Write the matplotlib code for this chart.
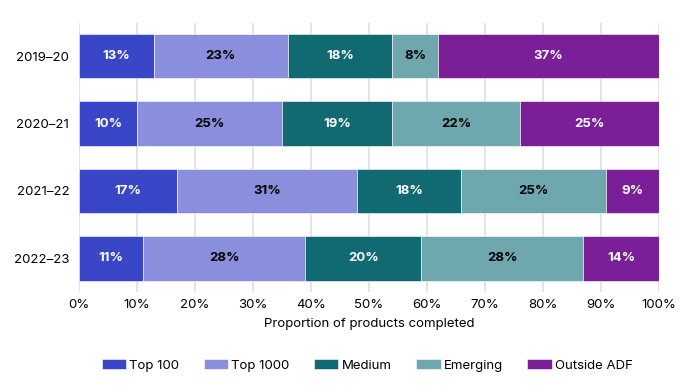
import matplotlib
matplotlib.use("Agg")
import matplotlib.pyplot as plt
import numpy as np

# data (share of products completed, %)
years = ["2019–20", "2020–21", "2021–22", "2022–23"]
groups = ["Top 100", "Top 1000", "Medium", "Emerging", "Outside ADF"]
top100 = [12.9, 10.0, 16.9, 11.0]
top1000 = [23.1, 25.0, 31.0, 28.0]
medium = [18.0, 19.0, 18.0, 20.0]
emerging = [7.9, 22.0, 25.0, 27.9]
outside = [38.1, 24.0, 9.1, 13.1]
# labels as printed on the bars
labels = [
    ["13%", "10%", "17%", "11%"],
    ["23%", "25%", "31%", "28%"],
    ["18%", "19%", "18%", "20%"],
    ["8%", "22%", "25%", "28%"],
    ["37%", "25%", "9%", "14%"],
]

colors = ["#3a46c8", "#8a8fdd", "#116a72", "#6fa7ae", "#7a1f98"]
text_colors = ["white", "black", "white", "black", "white"]

plt.rcParams["font.family"] = ["Inter", "DejaVu Sans"]

fig = plt.figure(figsize=(6.89, 3.92), dpi=100)
ax = fig.add_axes([0.1147, 0.2551, 0.8418, 0.6875])

series = [top100, top1000, medium, emerging, outside]
y = np.arange(len(years))
left = np.zeros(len(years))
for i, vals in enumerate(series):
    bars = ax.barh(y, vals, left=left, height=0.66, color=colors[i],
                   edgecolor="white", linewidth=0.4, label=groups[i], zorder=3)
    for j, b in enumerate(bars):
        ax.text(left[j] + vals[j] / 2, y[j], labels[i][j], ha="center", va="center",
                color=text_colors[i], fontsize=9.5, fontweight="bold", zorder=4)
    left += np.array(vals)

ax.set_xlim(0, 100)
ax.set_ylim(3.5, -0.5)
ax.set_yticks(y)
ax.set_yticklabels(years, fontsize=9.5)
ax.set_xticks(np.arange(0, 101, 10))
ax.set_xticklabels([f"{v}%" for v in range(0, 101, 10)], fontsize=9.5)
ax.tick_params(length=0, pad=5)
ax.tick_params(axis="y", pad=7)
ax.grid(axis="x", color="#e2e2e2", linewidth=1.3, zorder=0)
for s in ax.spines.values():
    s.set_visible(False)
ax.set_xlabel("Proportion of products completed", fontsize=9.5, labelpad=5)

ax.legend(loc="center", bbox_to_anchor=(0.497, -0.271), ncol=5, frameon=False,
          fontsize=9.5, handlelength=1.85, handleheight=0.9, columnspacing=1.85,
          handletextpad=0.25)

fig.savefig("out.png", dpi=100)
